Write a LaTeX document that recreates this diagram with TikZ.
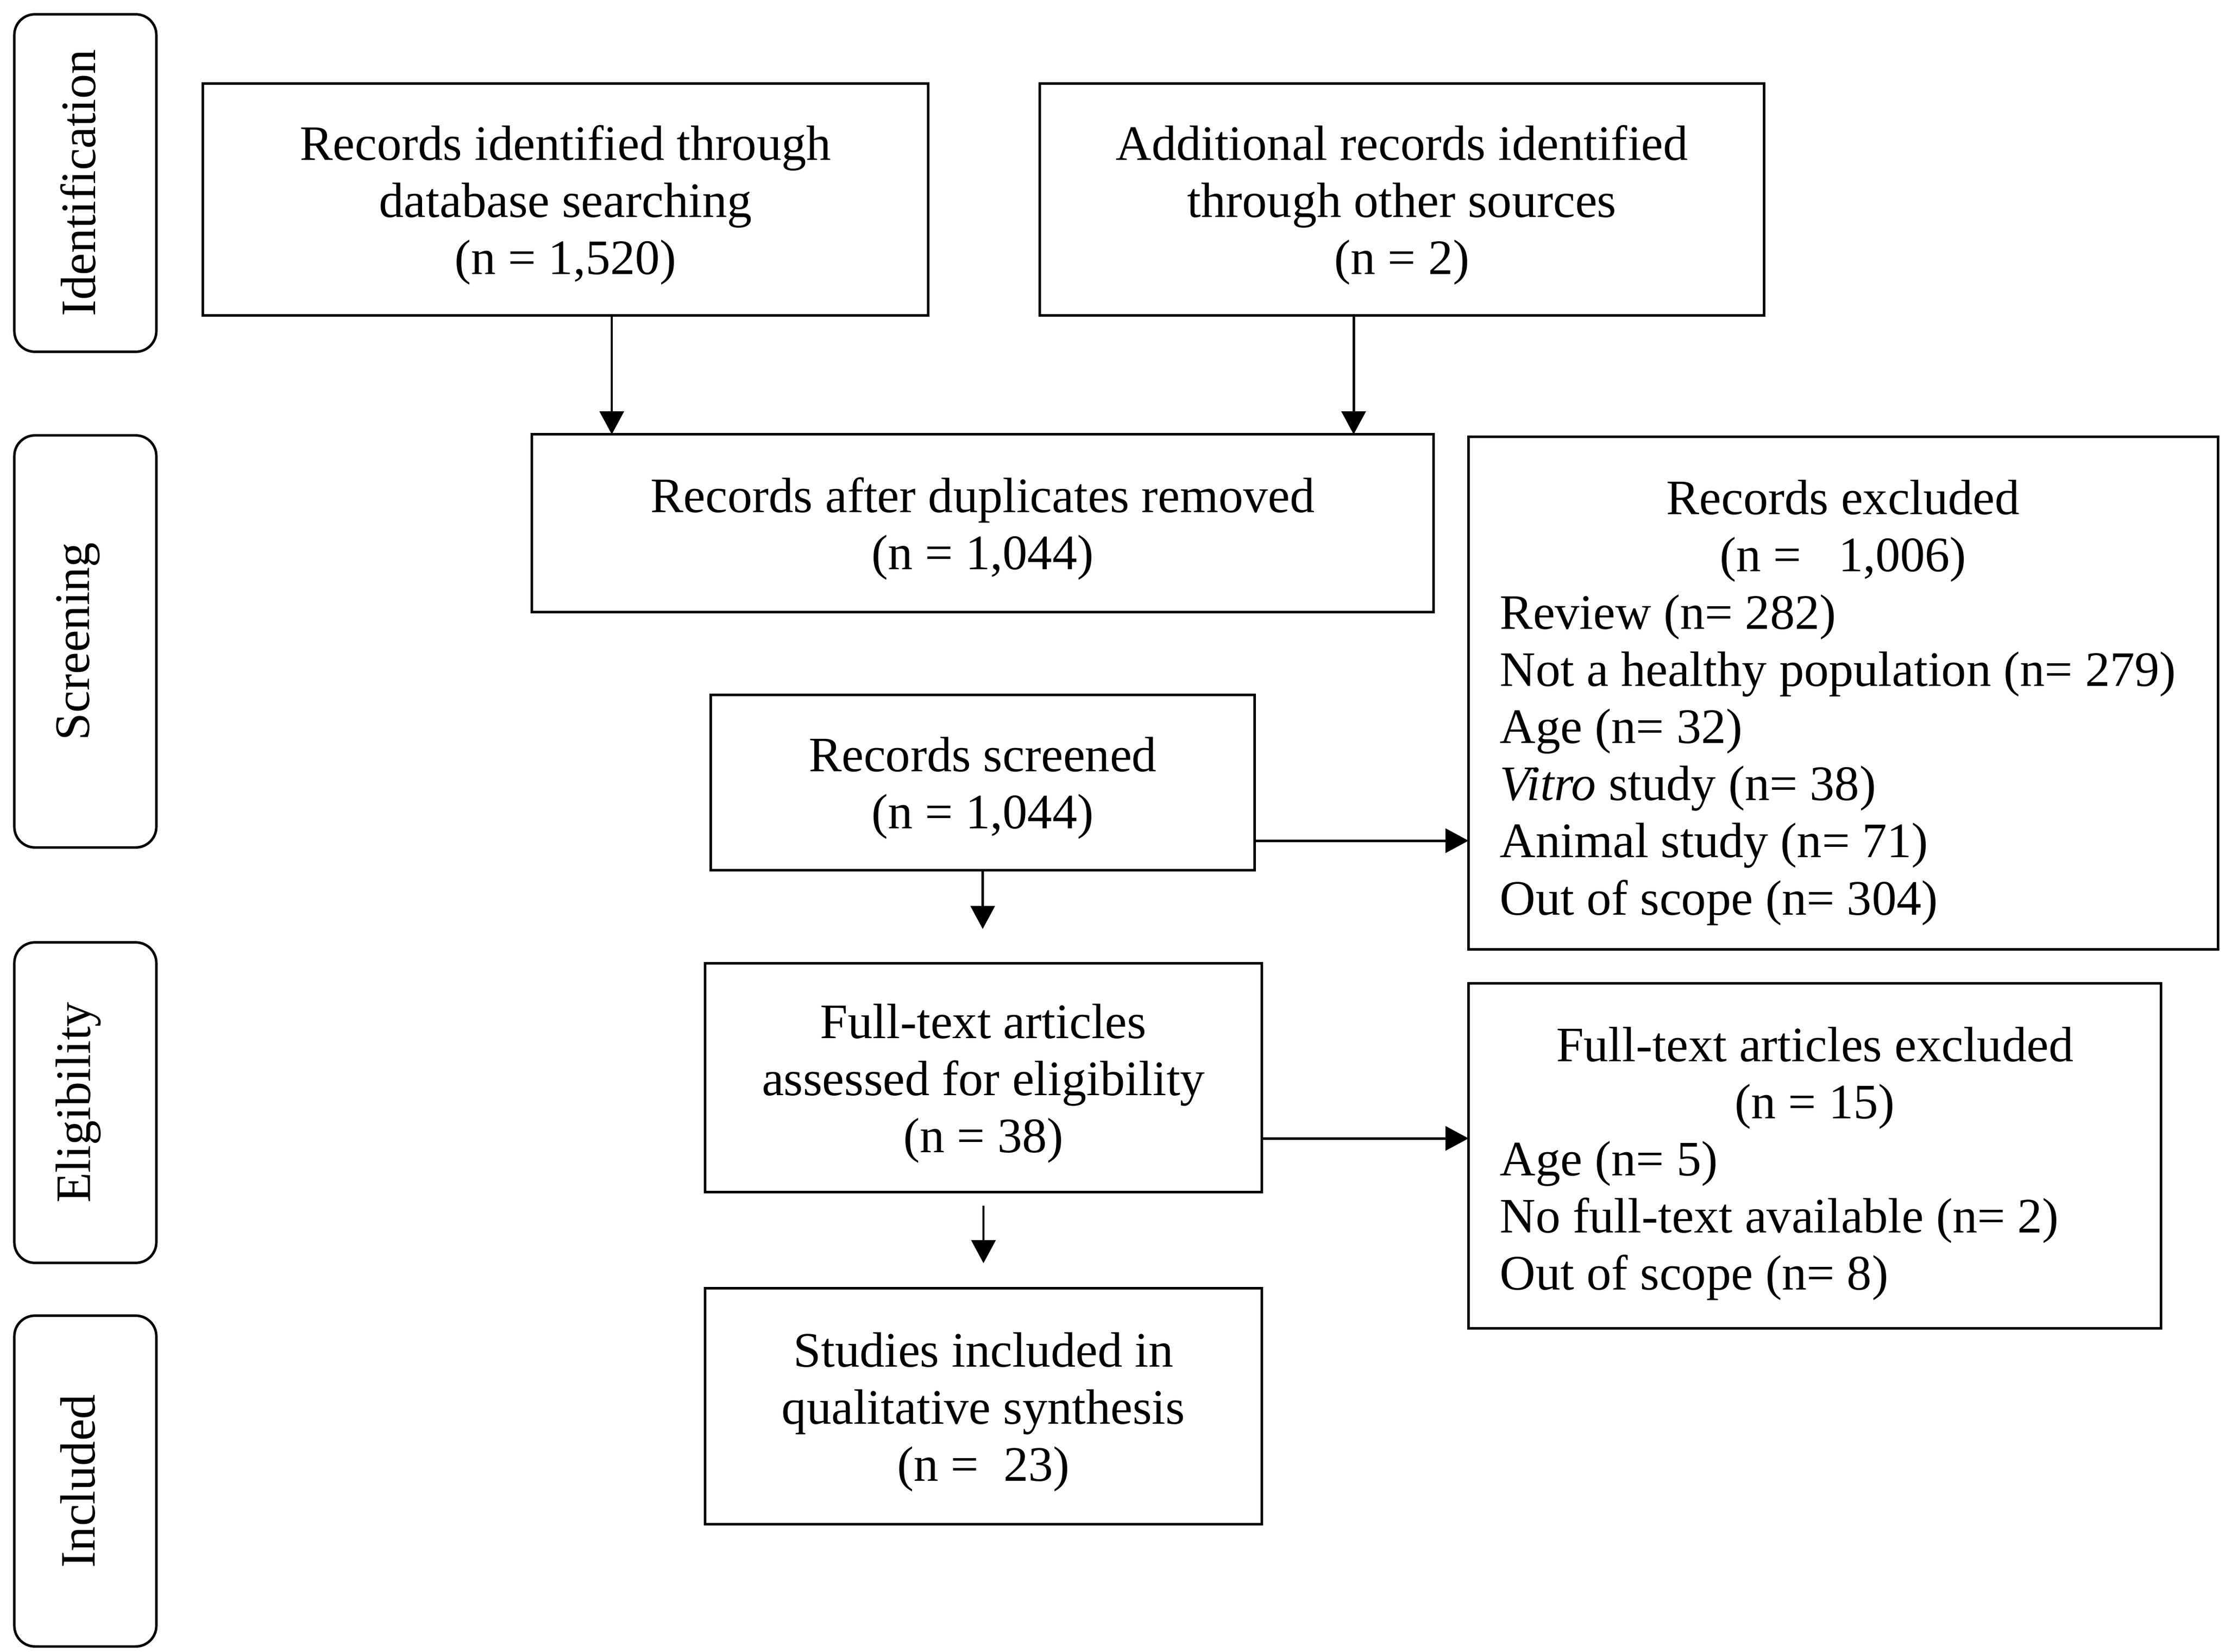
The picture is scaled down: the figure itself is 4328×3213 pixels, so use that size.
\documentclass[tikz,border=0pt]{standalone}
\usepackage{fontspec}
\setmainfont{Liberation Serif}
\usetikzlibrary{arrows.meta}
\begin{document}
\begin{tikzpicture}[x=0.01cm,y=-0.01cm,
  txt/.style={font=\fontsize{27.4pt}{31.6pt}\selectfont},
  bx/.style={draw,line width=1.4pt,inner sep=0pt,outer sep=0pt},
  btxt/.style={txt,align=center,inner sep=0pt},
  phase/.style={draw,line width=1.4pt,rounded corners=0.4cm,inner sep=0pt,outer sep=0pt,minimum width=2.76cm},
  ptxt/.style={txt,rotate=90,inner sep=0pt},
  arr/.style={line width=1.4pt,-{Triangle[length=0.45cm,width=0.47cm]}},
  lst/.style={txt,align=left,inner sep=0pt,anchor=west}]
\useasboundingbox (0,0) rectangle (4328,3213);
\fill[white] (0,0) rectangle (4328,3213);
% phase labels
\node[phase,minimum height=6.56cm] (p1) at (166,356) {};
\node[ptxt] (p1t) at ([xshift=-0.14cm]p1.center) {Identification};
\node[phase,minimum height=8.01cm] (p2) at (166,1247.5) {};
\node[ptxt] (p2t) at ([xshift=-0.14cm]p2.center) {Screening};
\node[phase,minimum height=6.23cm] (p3) at (166,2144.5) {};
\node[ptxt] (p3t) at ([xshift=-0.14cm]p3.center) {Eligibility};
\node[phase,minimum height=6.43cm] (p4) at (166,2880.5) {};
\node[ptxt] (p4t) at ([xshift=-0.14cm]p4.center) {Included};
% boxes
\node[bx,minimum width=14.10cm,minimum height=4.50cm] (A) at (1100,388) {};
\node[btxt] (At) at ([yshift=-0.11cm]A.center) {Records identified through\\database searching\\(n = 1,520)};
\node[bx,minimum width=14.08cm,minimum height=4.50cm] (B) at (2727,388) {};
\node[btxt] (Bt) at ([yshift=-0.11cm]B.center) {Additional records identified\\through other sources\\(n = 2)};
\node[bx,minimum width=17.53cm,minimum height=3.45cm] (C) at (1911.5,1017.5) {};
\node[btxt] (Ct) at ([yshift=-0.11cm]C.center) {Records after duplicates removed\\(n = 1,044)};
\node[bx,minimum width=14.57cm,minimum height=9.96cm] (D) at (3585.5,1348) {};
\node[btxt] (Dt) at (3585,1033) {Records excluded\\(n = \ \ 1,006)};
\node[lst] (Dl) at (2917,1478) {Review (n= 282)\\Not a healthy population (n= 279)\\Age (n= 32)\\\textit{Vitro} study (n= 38)\\Animal study (n= 71)\\Out of scope (n= 304)};
\node[bx,minimum width=10.57cm,minimum height=3.40cm] (E) at (1911.5,1522) {};
\node[btxt] (Et) at ([yshift=-0.11cm]E.center) {Records screened\\(n = 1,044)};
\node[bx,minimum width=10.82cm,minimum height=4.44cm] (F) at (1913,2096) {};
\node[btxt] (Ft) at ([yshift=-0.11cm]F.center) {Full-text articles\\assessed for eligibility\\(n = 38)};
\node[bx,minimum width=13.46cm,minimum height=6.70cm] (G) at (3530,2248) {};
\node[btxt] (Gt) at (3530,2097) {Full-text articles excluded\\(n = 15)};
\node[lst] (Gl) at (2917,2374) {Age (n= 5)\\No full-text available (n= 2)\\Out of scope (n= 8)};
\node[bx,minimum width=10.82cm,minimum height=4.58cm] (H) at (1913,2735) {};
\node[btxt] (Ht) at ([yshift=-0.11cm]H.center) {Studies included in\\qualitative synthesis\\(n = \ 23)};
% connectors
\coordinate (ac) at (1190,0);
\coordinate (bc) at (2633,0);
\draw[arr] (A.south -| ac) -- (C.north -| ac);
\draw[arr] (B.south -| bc) -- (C.north -| bc);
\coordinate (ed) at ([yshift=-1.13cm]E.east);
\draw[arr] (ed) -- (ed -| D.west);
\draw[arr,shorten >=0.67cm] (E.south) -- (E.south |- F.north);
\coordinate (fg) at ([yshift=-1.18cm]F.east);
\draw[arr] (fg) -- (fg -| G.west);
\draw[arr,shorten <=0.27cm,shorten >=0.49cm] (F.south) -- (F.south |- H.north);
\end{tikzpicture}
\end{document}
